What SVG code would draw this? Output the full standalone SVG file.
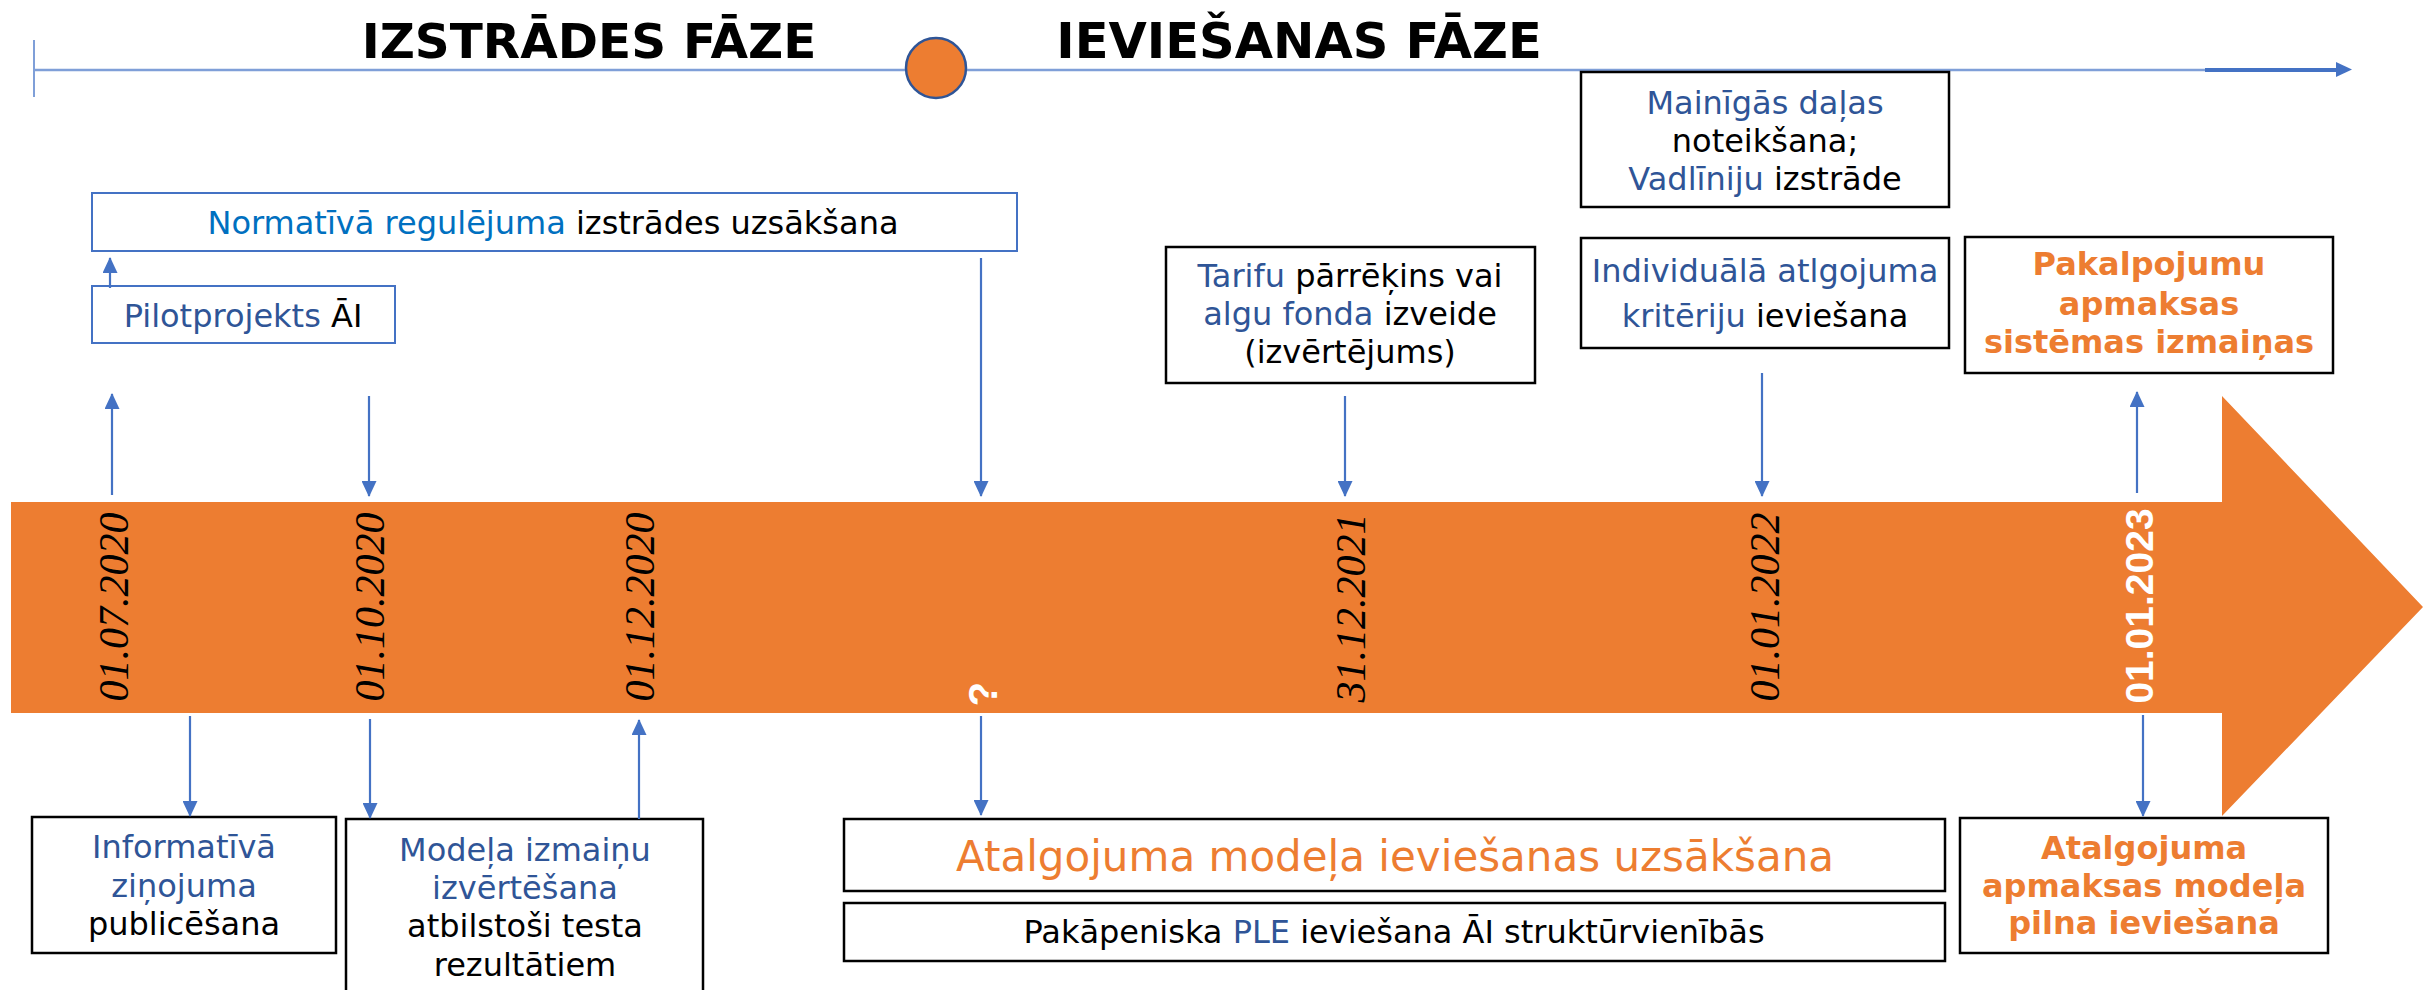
<svg xmlns="http://www.w3.org/2000/svg" width="2423" height="990" viewBox="0 0 2423 990">
<style>
.t{font-family:"DejaVu Sans",Verdana,sans-serif;font-size:32px;text-anchor:middle;fill:#000}
.b{fill:#2F5597}
.nb{fill:#0070C0}
.o{fill:#ED7D31;font-weight:bold}
.title{font-family:"DejaVu Sans",Verdana,sans-serif;font-weight:bold;font-size:48.5px;text-anchor:middle;fill:#000}
.date{font-family:"Liberation Serif","Times New Roman",serif;font-style:italic;font-size:42px;text-anchor:middle;fill:#000}
.box{fill:#fff;stroke:#000;stroke-width:2.5}
.bbox{fill:#fff;stroke:#4472C4;stroke-width:2}
.c{stroke:#4472C4;stroke-width:2.2;fill:none;marker-end:url(#ah)}
</style>
<defs>
<marker id="ah" markerUnits="userSpaceOnUse" markerWidth="16" markerHeight="15" refX="15" refY="7.5" orient="auto">
<path d="M0,0 L16,7.5 L0,15 z" fill="#4472C4"/>
</marker>
</defs>
<rect width="2423" height="990" fill="#fff"/>

<g id="timeline">
<line x1="34" y1="40" x2="34" y2="97" stroke="#7F9FD8" stroke-width="2"/>
<line x1="34" y1="70" x2="2206" y2="70" stroke="#7F9FD8" stroke-width="2.5"/>
<line x1="2205" y1="70" x2="2340" y2="70" stroke="#4472C4" stroke-width="4"/>
<path d="M2336,62 L2352,69.5 L2336,77 z" fill="#4472C4"/>
<circle cx="936" cy="68" r="30" fill="#ED7D31" stroke="#2F5597" stroke-width="2.5"/>
<text class="title" x="589" y="58">IZSTRĀDES FĀZE</text>
<text class="title" x="1299" y="58" style="font-size:49.5px">IEVIEŠANAS FĀZE</text>
</g>

<g id="band">
<path d="M11,502 L2222,502 L2222,396 L2423,607 L2222,816 L2222,713 L11,713 z" fill="#ED7D31"/>
<text class="date" transform="translate(128,607) rotate(-90)">01.07.2020</text>
<text class="date" transform="translate(384,607) rotate(-90)">01.10.2020</text>
<text class="date" transform="translate(654,607) rotate(-90)">01.12.2020</text>
<text class="date" transform="translate(1365,608) rotate(-90)">31.12.2021</text>
<text class="date" transform="translate(1779,607) rotate(-90)">01.01.2022</text>
<text transform="translate(2153,606) rotate(-90)" style="font-family:'Liberation Sans',Arial,sans-serif;font-weight:bold;font-size:39px;fill:#fff;text-anchor:middle">01.01.2023</text>
<text transform="translate(997,694) rotate(-90)" style="font-family:'Liberation Sans',Arial,sans-serif;font-weight:bold;font-size:40px;fill:#fff;text-anchor:middle">?</text>
</g>

<g id="n-normativa">
<rect class="bbox" x="92" y="193" width="925" height="58"/>
<text class="t" x="553" y="234"><tspan class="nb">Normatīvā regulējuma</tspan> izstrādes uzsākšana</text>
</g>
<g id="n-pilot">
<rect class="bbox" x="92" y="286" width="303" height="57"/>
<text class="t" x="243" y="327"><tspan class="b">Pilotprojekts</tspan> ĀI</text>
</g>
<g id="n-mainigas">
<rect class="box" x="1581" y="72" width="368" height="135"/>
<text class="t" x="1765" y="114"><tspan class="b">Mainīgās daļas</tspan></text>
<text class="t" x="1765" y="152">noteikšana;</text>
<text class="t" x="1765" y="190"><tspan class="b">Vadlīniju</tspan> izstrāde</text>
</g>
<g id="n-tarifu">
<rect class="box" x="1166" y="247" width="369" height="136"/>
<text class="t" x="1350" y="287"><tspan class="b">Tarifu</tspan> pārrēķins vai</text>
<text class="t" x="1350" y="325"><tspan class="b">algu fonda</tspan> izveide</text>
<text class="t" x="1350" y="363">(izvērtējums)</text>
</g>
<g id="n-individuala">
<rect class="box" x="1581" y="238" width="368" height="110"/>
<text class="t" x="1765" y="282"><tspan class="b">Individuālā atlgojuma</tspan></text>
<text class="t" x="1765" y="327"><tspan class="b">kritēriju</tspan> ieviešana</text>
</g>
<g id="n-pakalpojumu">
<rect class="box" x="1965" y="237" width="368" height="136"/>
<text class="t o" x="2149" y="275">Pakalpojumu</text>
<text class="t o" x="2149" y="315">apmaksas</text>
<text class="t o" x="2149" y="353">sistēmas izmaiņas</text>
</g>
<g id="n-informativa">
<rect class="box" x="32" y="817" width="304" height="136"/>
<text class="t" x="184" y="858"><tspan class="b">Informatīvā</tspan></text>
<text class="t" x="184" y="897"><tspan class="b">ziņojuma</tspan></text>
<text class="t" x="184" y="935">publicēšana</text>
</g>
<g id="n-modela">
<rect class="box" x="346" y="819" width="357" height="200"/>
<text class="t" x="525" y="861"><tspan class="b">Modeļa izmaiņu</tspan></text>
<text class="t" x="525" y="899"><tspan class="b">izvērtēšana</tspan></text>
<text class="t" x="525" y="937">atbilstoši testa</text>
<text class="t" x="525" y="976">rezultātiem</text>
</g>
<g id="n-atalgojuma-uzsaksana">
<rect class="box" x="844" y="819" width="1101" height="72"/>
<text class="t" x="1395" y="871" style="font-size:42px;fill:#ED7D31">Atalgojuma modeļa ieviešanas uzsākšana</text>
</g>
<g id="n-pakapeniska">
<rect class="box" x="844" y="903" width="1101" height="58"/>
<text class="t" x="1394" y="943">Pakāpeniska <tspan class="b">PLE</tspan> ieviešana ĀI struktūrvienībās</text>
</g>
<g id="n-atalgojuma-pilna">
<rect class="box" x="1960" y="818" width="368" height="135"/>
<text class="t o" x="2144" y="859">Atalgojuma</text>
<text class="t o" x="2144" y="897">apmaksas modeļa</text>
<text class="t o" x="2144" y="934">pilna ieviešana</text>
</g>

<g id="connectors">
<line class="c" x1="110" y1="288" x2="110" y2="258"/>
<line class="c" x1="112" y1="495" x2="112" y2="394"/>
<line class="c" x1="369" y1="396" x2="369" y2="496"/>
<line class="c" x1="981" y1="258" x2="981" y2="496"/>
<line class="c" x1="1345" y1="396" x2="1345" y2="496"/>
<line class="c" x1="1762" y1="373" x2="1762" y2="496"/>
<line class="c" x1="2137" y1="493" x2="2137" y2="392"/>
<line class="c" x1="190" y1="716" x2="190" y2="816"/>
<line class="c" x1="370" y1="719" x2="370" y2="818"/>
<line class="c" x1="639" y1="819" x2="639" y2="720"/>
<line class="c" x1="981" y1="716" x2="981" y2="815"/>
<line class="c" x1="2143" y1="715" x2="2143" y2="816"/>
</g>
</svg>
